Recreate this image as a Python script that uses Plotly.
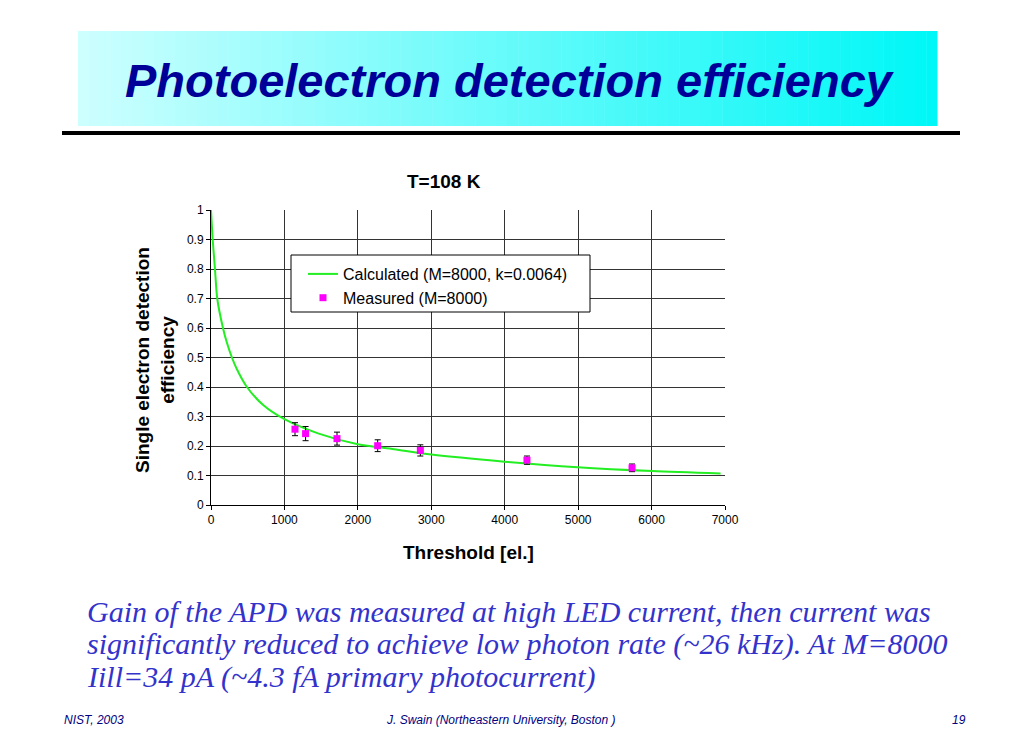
import plotly.graph_objects as go

# calculated curve (M=8000, k=0.0064)
calc_x = [0, 23, 54, 85, 163, 217, 285, 353, 489, 715, 1000, 1468, 2000,
          2495, 3000, 3998, 4993, 6007, 6940]
calc_y = [1.0, 0.90, 0.80, 0.70, 0.60, 0.55, 0.50, 0.46, 0.40, 0.338, 0.291,
          0.242, 0.206, 0.189, 0.171, 0.147, 0.128, 0.115, 0.107]

# measured points (M=8000) with error bars
meas_x = [1144, 1288, 1716, 2270, 2851, 4303, 5734]
meas_y = [0.257, 0.242, 0.225, 0.201, 0.185, 0.152, 0.126]
meas_err = [0.022, 0.024, 0.022, 0.020, 0.019, 0.014, 0.013]

x_ticks = [0, 1000, 2000, 3000, 4000, 5000, 6000, 7000]
y_ticks = [0, 0.1, 0.2, 0.3, 0.4, 0.5, 0.6, 0.7, 0.8, 0.9, 1]

W, H = 1024, 748
OFF = 8  # page body margin
L, R, T, B = 211, 725, 210, 505  # plot area in page pixels


def px(x):
    return (x - L) / (R - L)


def py(y):
    return (B - y) / (B - T)


fig = go.Figure()
fig.add_trace(go.Scatter(
    x=calc_x, y=calc_y, mode="lines",
    line=dict(color="#22ee22", width=2, shape="spline", smoothing=0.8),
    name="Calculated (M=8000, k=0.0064)"))
fig.add_trace(go.Scatter(
    x=meas_x, y=meas_y, mode="markers",
    marker=dict(symbol="square", color="#ff00ff", size=7),
    error_y=dict(type="data", array=meas_err, color="black", thickness=1, width=3),
    name="Measured (M=8000)"))

shapes = []
# banner with a light-to-cyan gradient
n = 80
x0, x1 = 78, 937
for i in range(n):
    f = i / (n - 1)
    r = int(205 * (1 - f))
    g = int(255 - 8 * f)
    shapes.append(dict(type="rect", xref="paper", yref="paper",
                       x0=px(x0 + (x1 - x0) * i / n), x1=px(x0 + (x1 - x0) * (i + 1) / n + 0.5),
                       y0=py(126), y1=py(31), line=dict(width=0),
                       fillcolor=f"rgb({r},{g},{g})", layer="below"))
shapes.append(dict(type="line", xref="paper", yref="paper", x0=px(62), x1=px(960),
                   y0=py(133), y1=py(133), line=dict(color="black", width=4)))
# legend frame
shapes.append(dict(type="rect", xref="paper", yref="paper", x0=px(291), x1=px(590),
                   y0=py(312), y1=py(255), line=dict(color="black", width=1),
                   fillcolor="white", layer="above"))

navy = "#000099"
sans = "Liberation Sans, Arial"
ann = [
    dict(text="<b><i>Photoelectron detection efficiency</i></b>", x=px(510), y=py(80),
         font=dict(family=sans, size=47, color=navy)),
    dict(text="<b>T=108 K</b>", x=px(444), y=py(181),
         font=dict(family=sans, size=19, color="black")),
    dict(text="<b>Threshold [el.]</b>", x=px(468), y=py(552),
         font=dict(family=sans, size=19, color="black")),
    dict(text="<b>Single electron detection<br>efficiency</b>", x=px(155), y=py(360),
         textangle=-90, font=dict(family=sans, size=19, color="black")),
    dict(text="<i>NIST, 2003</i>", x=px(62), y=py(720), xanchor="left",
         font=dict(family=sans, size=12, color="#000080")),
    dict(text="<i>J. Swain (Northeastern University, Boston )</i>", x=px(501), y=py(720),
         font=dict(family=sans, size=12, color="#000080")),
    dict(text="<i>19</i>", x=px(968), y=py(720), xanchor="right",
         font=dict(family=sans, size=12, color="#000080")),
]
note_lines = [
    "Gain of the APD was measured at high LED current, then current was",
    "significantly reduced to achieve low photon rate (~26 kHz). At M=8000",
    "Iill=34 pA (~4.3 fA primary photocurrent)",
]
for i, line in enumerate(note_lines):
    ann.append(dict(text=f"<i>{line}</i>", x=px(85), y=py(611 + 33 * i), xanchor="left",
                    font=dict(family="Liberation Serif, serif", size=30, color="#3333cc")))
for a in ann:
    a.update(xref="paper", yref="paper", showarrow=False)
    a.setdefault("xanchor", "center")
    a["yanchor"] = "middle"

fig.update_layout(
    width=W, height=H,
    margin=dict(l=L - OFF, r=W - R + OFF, t=T - OFF, b=H - B + OFF),
    paper_bgcolor="white", plot_bgcolor="white",
    font=dict(family=sans, size=11, color="black"),
    shapes=shapes, annotations=ann,
    legend=dict(x=px(303), y=py(257), xanchor="left", yanchor="top",
                bgcolor="rgba(0,0,0,0)", borderwidth=0,
                font=dict(size=16), tracegroupgap=2),
)
fig.update_xaxes(range=[0, 7000], tickvals=x_ticks, showgrid=True, gridcolor="#333",
                 gridwidth=1, zeroline=False, showline=True, linecolor="black",
                 ticks="outside", ticklen=4, tickcolor="black", tickfont=dict(size=12))
fig.update_yaxes(range=[0, 1], tickvals=y_ticks, showgrid=True, gridcolor="#333",
                 gridwidth=1, zeroline=False, showline=True, linecolor="black",
                 ticks="outside", ticklen=4, tickcolor="black", tickfont=dict(size=12))

fig.write_html("out.html")
